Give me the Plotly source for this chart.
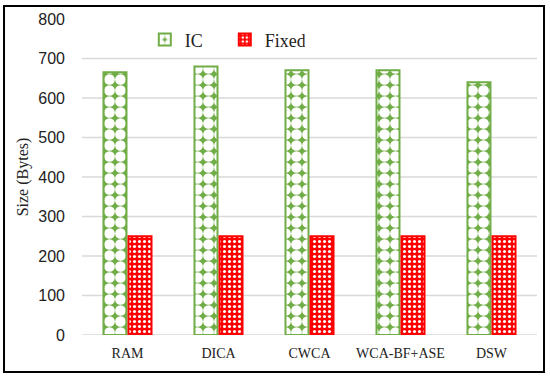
import plotly.graph_objects as go

categories = ["RAM", "DICA", "CWCA", "WCA-BF+ASE", "DSW"]
ic_values = [665, 680, 670, 670, 640]
fixed_values = [250, 250, 250, 250, 250]
y_ticks = [0, 100, 200, 300, 400, 500, 600, 700, 800]

GREEN = "#70ad47"
RED = "#ff0000"

fig = go.Figure()
fig.add_trace(go.Bar(
    x=categories, y=ic_values, name="IC",
    marker=dict(color=GREEN, line=dict(color=GREEN, width=2),
                pattern=dict(shape=".", fgcolor="white", bgcolor=GREEN, fgopacity=1,
                             size=11, solidity=0.75)),
))
fig.add_trace(go.Bar(
    x=categories, y=fixed_values, name="Fixed",
    marker=dict(color=RED, line=dict(color=RED, width=2),
                pattern=dict(shape=".", fgcolor="white", bgcolor=RED, fgopacity=1,
                             size=5, solidity=0.3)),
))

shapes = []
for v in y_ticks:
    if v < max(y_ticks):
        shapes.append(dict(type="line", xref="paper", yref="y", x0=0, x1=1,
                           y0=v, y1=v, line=dict(color="#d9d9d9", width=1.5),
                           layer="below"))
shapes.append(dict(type="rect", xref="paper", yref="paper",
                   x0=-0.1714, x1=1.0154, y0=-0.117, y1=1.041,
                   line=dict(color="black", width=2)))

fig.update_layout(
    width=550, height=377,
    margin=dict(l=82, r=13, t=19, b=42),
    paper_bgcolor="white", plot_bgcolor="white",
    barmode="group", bargap=0.45, bargroupgap=0.08,
    shapes=shapes,
    showlegend=True,
    legend=dict(orientation="h", x=0.138, y=0.934, xanchor="left", yanchor="middle",
                font=dict(family="Liberation Serif", size=18, color="#222"),
                entrywidth=35, bgcolor="rgba(0,0,0,0)"),
    xaxis=dict(showgrid=False, showline=False, ticks="", ticklabelstandoff=8,
               tickfont=dict(family="Liberation Serif", size=14, color="#222")),
    yaxis=dict(range=[0, 800], tickvals=y_ticks, showgrid=False, zeroline=False,
               showline=False, ticks="", ticklabelstandoff=16,
               tickfont=dict(family="Liberation Sans", size=16, color="#222"),
               title=dict(text="Size (Bytes)", standoff=5,
                          font=dict(family="Liberation Serif", size=16, color="#222"))),
)

fig.write_html("out.html", config={"displayModeBar": False},
               post_script="document.body.style.margin='0';")
